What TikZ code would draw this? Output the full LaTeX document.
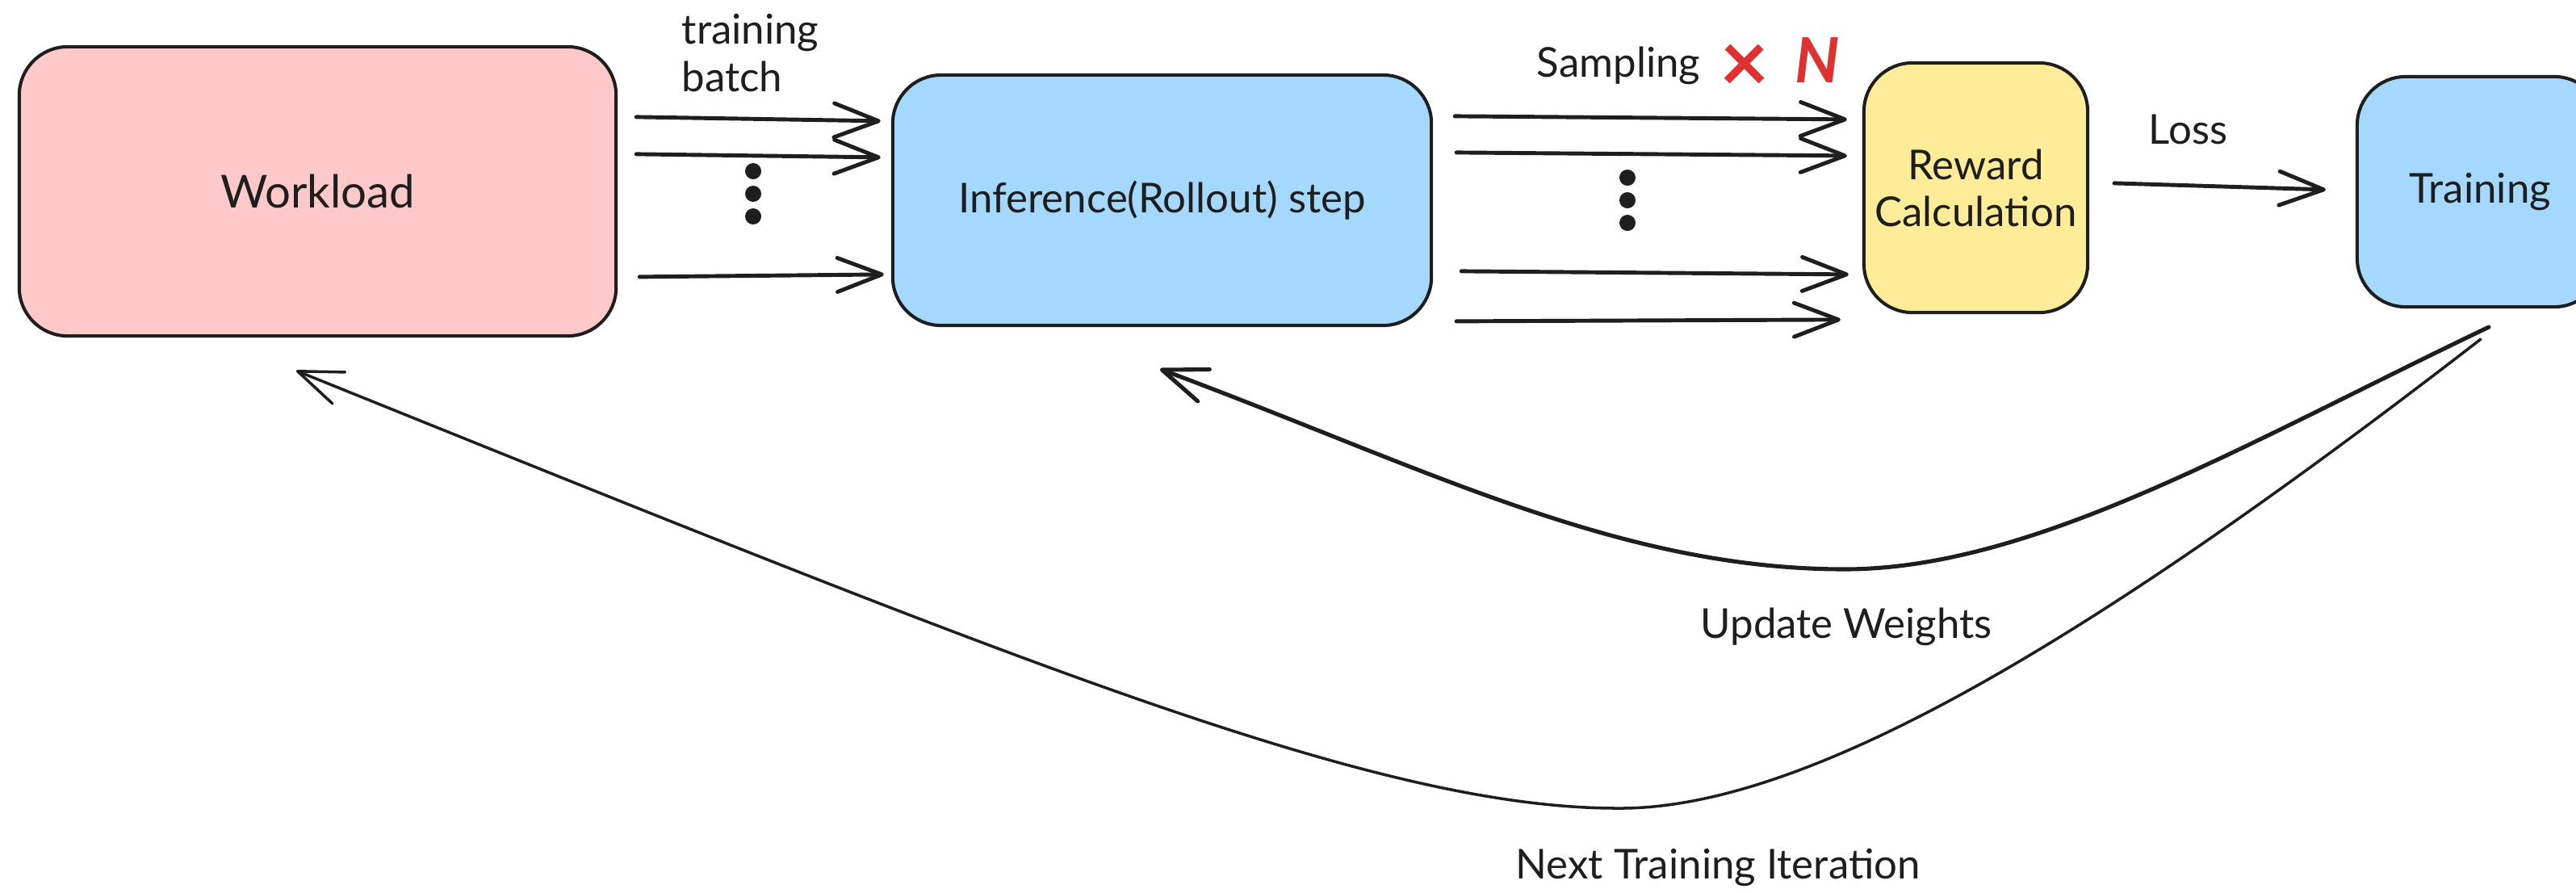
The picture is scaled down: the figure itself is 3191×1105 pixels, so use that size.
\documentclass[tikz,border=0pt]{standalone}
\usepackage{fontspec}
\setmainfont{Lato}
\usetikzlibrary{arrows.meta,calc}
\definecolor{ink}{HTML}{1E1E1E}
\definecolor{pinkf}{HTML}{FFC9C9}
\definecolor{bluef}{HTML}{A5D8FF}
\definecolor{yellowf}{HTML}{FFEC99}
\definecolor{redn}{HTML}{E03131}
\begin{document}
\begin{tikzpicture}[x=0.01cm,y=-0.01cm,
  box/.style={draw=ink, line width=1.15pt, rounded corners=0.6cm, inner sep=0pt, align=center, text=ink, font=\fontsize{14.5}{16.5}\selectfont},
  lbl/.style={inner sep=0pt, text=ink, font=\fontsize{14.5}{16.5}\selectfont},
  tipv/.style={-{Straight Barb[length=0.55cm,width=0.42cm,round]}},
  arr/.style={draw=ink, line width=1.4pt, line cap=round, tipv},
  upd/.style={draw=ink, line width=1.45pt, line cap=round, tipv},
  nxt/.style={draw=ink, line width=1.0pt, line cap=round, tipv},
  dotn/.style={circle, fill=ink, inner sep=0pt, minimum size=0.2cm}]
\useasboundingbox (0,0) rectangle (3191,1105);
\fill[white] (0,0) rectangle (3191,1105);
\clip (0,0) rectangle (3191,1105);

% boxes
\node[box, fill=pinkf, minimum width=7.39cm, minimum height=3.58cm, font=\fontsize{16}{19}\selectfont] (W) at (393.5,237) {Workload};
\node[box, fill=bluef, minimum width=6.67cm, minimum height=3.10cm] (I) at (1439.5,248) {Inference(Rollout) step};
\node[box, fill=yellowf, minimum width=2.77cm, minimum height=3.09cm] (R) at (2447.5,232.5) {Reward\\Calculation};
\node[box, fill=bluef, minimum width=3.04cm, minimum height=2.85cm] (T) at (3072,237.5) {Training};

% labels
\node[lbl, anchor=base west, align=left] (tb) at (844,113) {training\\batch};
\node[lbl, anchor=base west] (samp) at (1903,95) {Sampling\hspace{7pt}{\color{redn}\bfseries\raisebox{-5.5pt}{\fontsize{30}{30}\selectfont ×}\hspace{9pt}\fontsize{22}{22}\selectfont\itshape\raisebox{-2.2pt}{N}}};
\node[lbl, anchor=base west] (loss) at (2661,178) {Loss};
\node[lbl, anchor=base west] (uw) at (2106,790) {Update Weights};
\node[lbl, anchor=base west] (nti) at (1877,1088) {Next Training Iteration};

% workload -> inference
\draw[arr] ($(W.north east)+(23,89)$) -- ($(I.north west)+(-13,59)$);
\draw[arr] ($(W.north east)+(23,135)$) -- ($(I.north west)+(-13,104)$);
\draw[arr] ($(W.north east)+(27,287)$) -- ($(I.north west)+(-9,249)$);
\node[dotn] (d1) at (933,212) {};
\node[dotn] (d2) at (933,240) {};
\node[dotn] (d3) at (933,268) {};

% inference -> reward
\draw[arr] ($(I.north east)+(27,53)$) -- ($(R.north west)+(-19,72)$);
\draw[arr] ($(I.north east)+(29,98)$) -- ($(R.north west)+(-19,117)$);
\draw[arr] ($(I.north east)+(35,245)$) -- ($(R.north west)+(-17,264)$);
\draw[arr] ($(I.north east)+(29,307)$) -- ($(R.north west)+(-27,320)$);
\node[dotn] (e1) at (2016,220) {};
\node[dotn] (e2) at (2016,248) {};
\node[dotn] (e3) at (2016,276) {};

% reward -> training
\draw[arr] ($(R.north east)+(31,151)$) -- ($(T.north west)+(-37,142)$);

% feedback curves
\coordinate (u0) at ($(T.south west)+(165,23)$);
\coordinate (u1) at ($(I.south)+(-2.5,52)$);
\coordinate (n0) at ($(T.south west)+(155,38)$);
\coordinate (n1) at ($(W.south)+(-26.5,41)$);
\draw[upd] (u0) .. controls (2785,547) and (2520,705) .. (2285,705) .. controls (2005,705) and (1767,580) .. (u1);
\draw[nxt] (n0) .. controls (2620,770) and (2250,1003) .. (2004,1001) .. controls (1704,1001) and (1267,822) .. (n1);
\end{tikzpicture}
\end{document}
